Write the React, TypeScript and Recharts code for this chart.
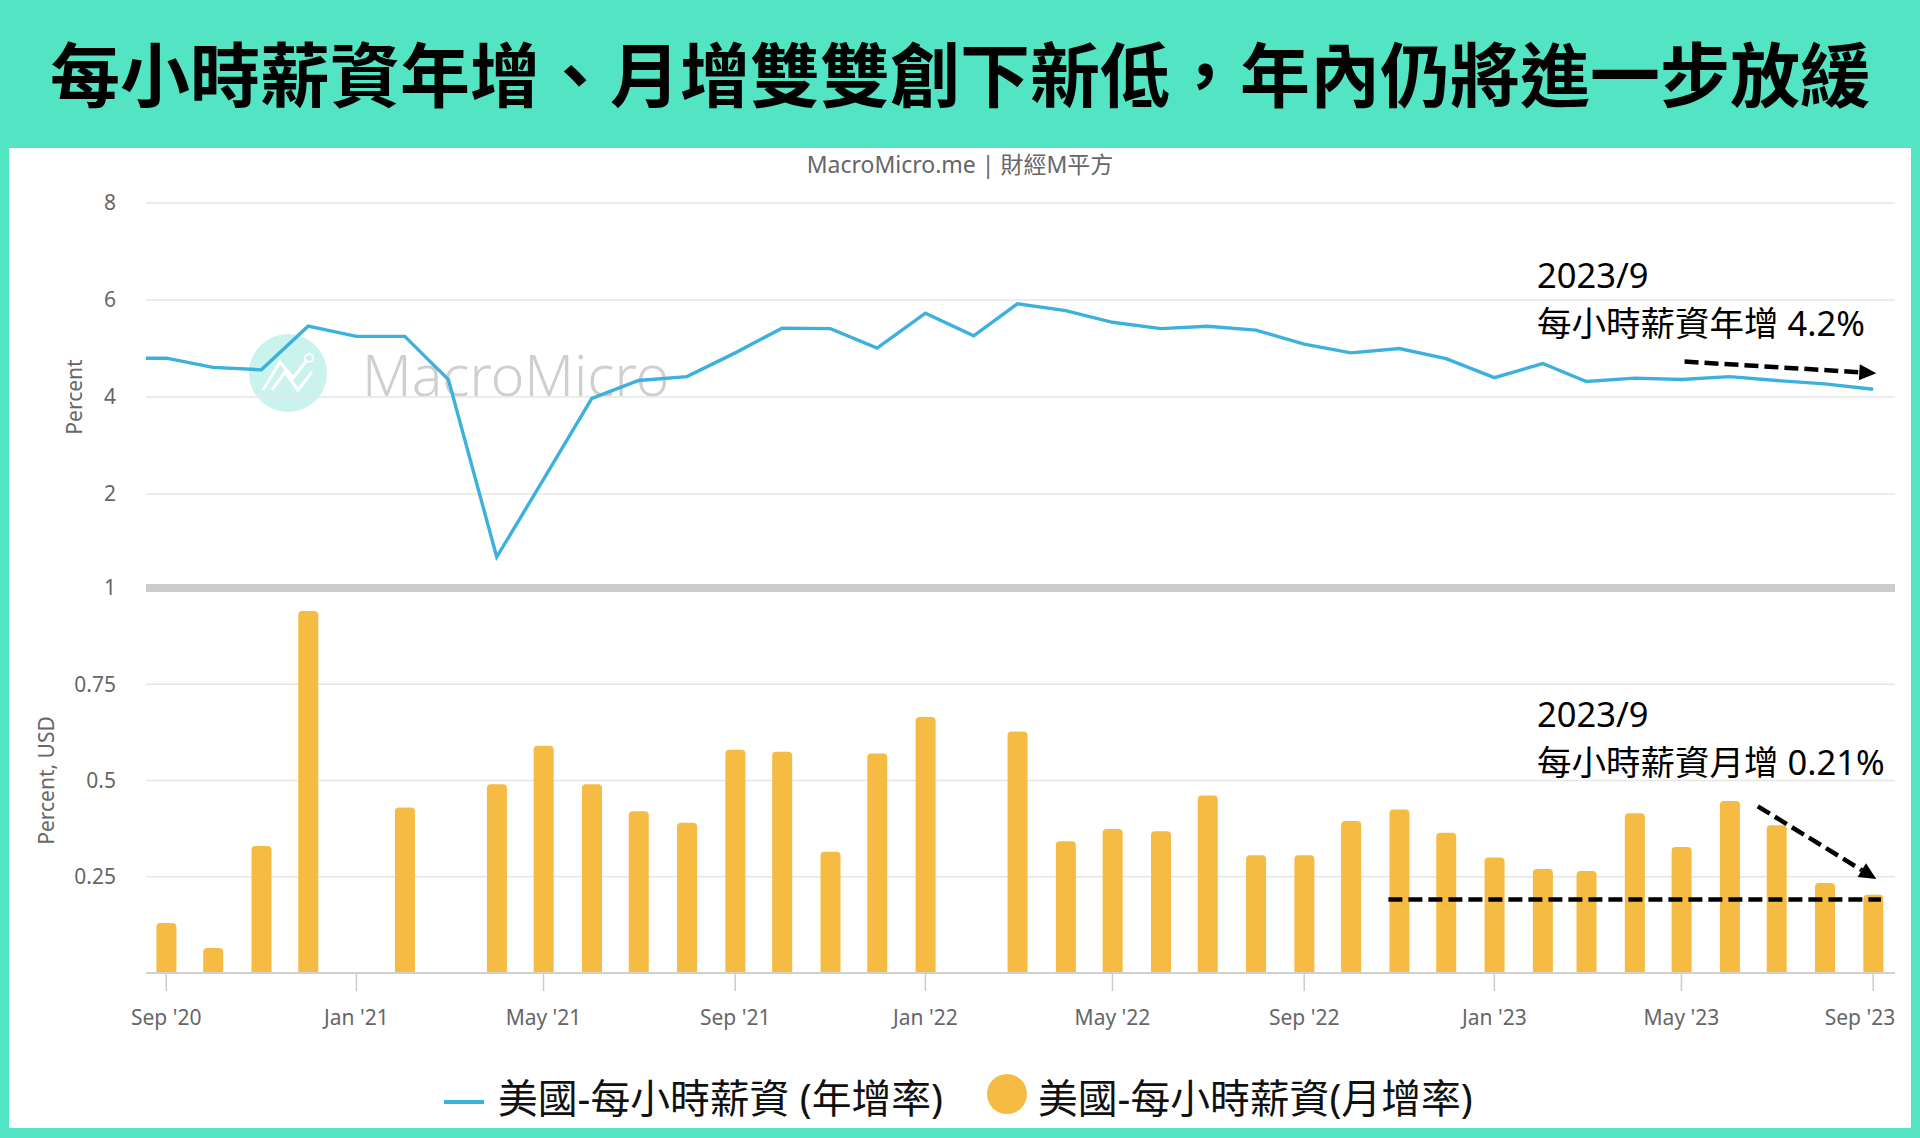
import React from 'react';
import { ComposedChart, Line, Bar, XAxis, YAxis, CartesianGrid, ReferenceLine } from 'recharts';

// ---------- data ----------
const lineMonths = [
  '2020-08', '2020-09', '2020-10', '2020-11', '2020-12',
  '2021-01', '2021-02', '2021-03', '2021-04', '2021-05', '2021-06', '2021-07', '2021-08', '2021-09', '2021-10', '2021-11', '2021-12',
  '2022-01', '2022-02', '2022-03', '2022-04', '2022-05', '2022-06', '2022-07', '2022-08', '2022-09', '2022-10', '2022-11', '2022-12',
  '2023-01', '2023-02', '2023-03', '2023-04', '2023-05', '2023-06', '2023-07', '2023-08', '2023-09',
];
const yoyValues = [
  4.8, 4.8, 4.61, 4.56, 5.46,
  5.25, 5.25, 4.36, 0.7, 2.3, 3.97, 4.34, 4.42, 4.91, 5.42, 5.41, 5.01,
  5.73, 5.26, 5.92, 5.78, 5.54, 5.41, 5.46, 5.38, 5.09, 4.91, 5.0, 4.79,
  4.4, 4.69, 4.32, 4.39, 4.36, 4.42, 4.34, 4.27, 4.16,
];
const barMonths = lineMonths.slice(1);
const momValues = [
  0.13, 0.065, 0.33, 0.94,
  0, 0.43, 0, 0.49, 0.59, 0.49, 0.42, 0.39, 0.58, 0.575, 0.315, 0.57,
  0.665, 0, 0.627, 0.342, 0.374, 0.368, 0.461, 0.306, 0.306, 0.395, 0.425, 0.364,
  0.3, 0.27, 0.265, 0.415, 0.327, 0.447, 0.384, 0.234, 0.203,
];
const xTickMonths = ['2020-09', '2021-01', '2021-05', '2021-09', '2022-01', '2022-05', '2022-09', '2023-01', '2023-05', '2023-09'];
const xTickLabels = ["Sep '20", "Jan '21", "May '21", "Sep '21", "Jan '22", "May '22", "Sep '22", "Jan '23", "May '23", "Sep '23"];
const yoyTicks = [2, 4, 6, 8];
const momTicks = [0.25, 0.5, 0.75, 1];

// annotation anchors (data coordinates)
const yoyArrow = [{ month: '2023-05', day: 3, value: 4.73 }, { month: '2023-09', day: 3, value: 4.49 }];
const momArrow = [{ month: '2023-06', day: 19, value: 0.433 }, { month: '2023-09', day: 3, value: 0.244 }];
const momLevel = [{ month: '2022-10', day: 25, value: 0.191 }, { month: '2023-09', day: 6, value: 0.191 }];

const TITLE = '每小時薪資年增、月增雙雙創下新低，年內仍將進一步放緩';
const SUBTITLE = 'MacroMicro.me | 財經M平方';
const LINE_NAME = '美國-每小時薪資 (年增率)';
const BAR_NAME = '美國-每小時薪資(月增率)';
const ANNOT_DATE = '2023/9';
const ANNOT_YOY = '每小時薪資年增 4.2%';
const ANNOT_MOM = '每小時薪資月增 0.21%';

// ---------- helpers ----------
const toT = (m: string, day = 1) => Date.UTC(+m.slice(0, 4), +m.slice(5, 7) - 1, day);
const xDomain = [Date.UTC(2020, 7, 19), Date.UTC(2023, 8, 15)];
const lineData = lineMonths.map((m, i) => ({ t: toT(m), v: yoyValues[i] }));
const barData = barMonths.map((m, i) => ({ t: toT(m), v: momValues[i] }));
const tickTs = xTickMonths.map((m) => toT(m));
const seg = (a: any[]) => a.map((p) => ({ x: toT(p.month, p.day), y: p.value }));

const TEAL = '#53E5C3';
const LINE_C = '#3DB1DE';
const BAR_C = '#F5BB43';
const AXIS_TXT = '#666';
const LATIN = '"Noto Sans", "Noto Sans CJK TC", sans-serif';

const DashArrow = (p: any) => {
  const { x1, y1, x2, y2 } = p;
  if ([x1, y1, x2, y2].some((v) => typeof v !== 'number' || isNaN(v))) return <g />;
  const dx = x2 - x1;
  const dy = y2 - y1;
  const len = Math.hypot(dx, dy) || 1;
  const ux = dx / len;
  const uy = dy / len;
  const head = 17;
  const half = 8;
  const bx = x2 - ux * head;
  const by = y2 - uy * head;
  return (
    <g>
      <line x1={x1} y1={y1} x2={bx} y2={by} stroke="#000" strokeWidth={4.5} strokeDasharray="14 6" />
      <polygon
        points={`${x2},${y2} ${bx - uy * half},${by + ux * half} ${bx + uy * half},${by - ux * half}`}
        fill="#000"
      />
    </g>
  );
};

const XTick = (props: any) => {
  const { x, y, payload, index } = props;
  const i = tickTs.indexOf(payload.value);
  const label = i >= 0 ? xTickLabels[i] : '';
  const last = index === tickTs.length - 1;
  return (
    <text
      x={last ? x + 22 : x}
      y={y}
      dy="0.71em"
      textAnchor={last ? 'end' : 'middle'}
      fill={AXIS_TXT}
      fontSize={21}
      fontFamily={LATIN}
    >
      {label}
    </text>
  );
};

const yTickStyle = { fill: AXIS_TXT, fontSize: 21, fontFamily: LATIN };

export default function App() {
  return (
    <div
      style={{
        position: 'absolute',
        left: 0,
        top: 0,
        width: 1920,
        height: 1138,
        background: TEAL,
        overflow: 'hidden',
        fontFamily: LATIN,
      }}
    >
      <div style={{ position: 'absolute', left: 9, top: 148, width: 1902, height: 980, background: '#fff' }} />

      {/* watermark */}
      <svg width={1920} height={600} style={{ position: 'absolute', left: 0, top: 0 }}>
        <circle cx={288} cy={373} r={39} fill="#c9f3ec" />
        <polyline points="263,390 280,362 293,378 307,360" fill="none" stroke="#fff" strokeWidth={3} />
        <polyline points="272,390 285,372 298,390 312,372" fill="none" stroke="#fff" strokeWidth={3} />
        <circle cx={309} cy={358} r={4} fill="none" stroke="#fff" strokeWidth={2} />
        <text x={362} y={396} fontSize={57} fill="#cfcfcf" fontFamily={LATIN} fontWeight={300}>
          MacroMicro
        </text>
      </svg>

      {/* upper pane: YoY line */}
      <div style={{ position: 'absolute', left: 0, top: 0 }}>
        <ComposedChart width={1920} height={600} data={lineData} margin={{ top: 203, right: 25, bottom: 9, left: 20 }}>
          <CartesianGrid vertical={false} stroke="#e6e6e6" strokeWidth={1.5} />
          <XAxis dataKey="t" type="number" domain={xDomain} allowDataOverflow hide />
          <YAxis
            width={126}
            domain={[0, 8]}
            ticks={yoyTicks}
            axisLine={false}
            tickLine={false}
            tickMargin={24}
            tick={yTickStyle}
            label={{
              value: 'Percent',
              angle: -90,
              position: 'insideLeft',
              offset: 55,
              style: { textAnchor: 'middle', fill: AXIS_TXT, fontSize: 21, fontFamily: LATIN },
            }}
          />
          <Line
            dataKey="v"
            type="linear"
            stroke={LINE_C}
            strokeWidth={3.4}
            dot={false}
            activeDot={false}
            isAnimationActive={false}
          />
          <ReferenceLine segment={seg(yoyArrow)} shape={DashArrow} ifOverflow="visible" />
        </ComposedChart>
      </div>

      {/* lower pane: MoM bars */}
      <div style={{ position: 'absolute', left: 0, top: 0 }}>
        <ComposedChart width={1920} height={1040} data={barData} margin={{ top: 588, right: 25, bottom: 7, left: 20 }}>
          <CartesianGrid vertical={false} stroke="#e6e6e6" strokeWidth={1.5} />
          <XAxis
            dataKey="t"
            type="number"
            domain={xDomain}
            allowDataOverflow
            ticks={tickTs}
            interval={0}
            height={60}
            tickSize={18}
            tickMargin={19}
            tickLine={{ stroke: '#ccc', strokeWidth: 1.5 }}
            axisLine={{ stroke: '#d0d0d0', strokeWidth: 2 }}
            tick={<XTick />}
          />
          <YAxis
            width={126}
            domain={[0, 1]}
            ticks={momTicks}
            axisLine={false}
            tickLine={false}
            tickMargin={24}
            tick={yTickStyle}
            label={{
              value: 'Percent, USD',
              angle: -90,
              position: 'insideLeft',
              offset: 27,
              style: { textAnchor: 'middle', fill: AXIS_TXT, fontSize: 21, fontFamily: LATIN },
            }}
          />
          <ReferenceLine y={1} stroke="#cccccc" strokeWidth={8} />
          <Bar dataKey="v" fill={BAR_C} barSize={20} radius={[4, 4, 0, 0]} isAnimationActive={false} />
          <ReferenceLine
            segment={seg(momLevel)}
            stroke="#000"
            strokeWidth={4.5}
            strokeDasharray="14 6"
            ifOverflow="visible"
          />
          <ReferenceLine segment={seg(momArrow)} shape={DashArrow} ifOverflow="visible" />
        </ComposedChart>
      </div>

      {/* texts */}
      <svg width={1920} height={1138} style={{ position: 'absolute', left: 0, top: 0, pointerEvents: 'none' }}>
        <text
          x={960}
          y={102}
          textAnchor="middle"
          fontSize={70}
          fontWeight={700}
          fill="#000"
          fontFamily='"Noto Sans CJK TC", sans-serif'
        >
          {TITLE}
        </text>
        <text x={960} y={173} textAnchor="middle" fontSize={23} fill="#666" fontFamily={LATIN}>
          {SUBTITLE}
        </text>

        <text x={1537} y={288} fontSize={34.5} fill="#000" fontFamily={LATIN}>
          {ANNOT_DATE}
        </text>
        <text x={1537} y={336} fontSize={34.5} fill="#000" fontFamily={LATIN}>
          {ANNOT_YOY}
        </text>
        <text x={1537} y={727} fontSize={34.5} fill="#000" fontFamily={LATIN}>
          {ANNOT_DATE}
        </text>
        <text x={1537} y={775} fontSize={34.5} fill="#000" fontFamily={LATIN}>
          {ANNOT_MOM}
        </text>

        {/* legend */}
        <line x1={444} y1={1102} x2={484} y2={1102} stroke={LINE_C} strokeWidth={4} />
        <text x={498} y={1097} dominantBaseline="central" fontSize={39.8} fill="#111" fontFamily={LATIN}>
          {LINE_NAME}
        </text>
        <circle cx={1007} cy={1094} r={20} fill={BAR_C} />
        <text x={1038} y={1097} dominantBaseline="central" fontSize={39.8} fill="#111" fontFamily={LATIN}>
          {BAR_NAME}
        </text>
      </svg>
    </div>
  );
}
